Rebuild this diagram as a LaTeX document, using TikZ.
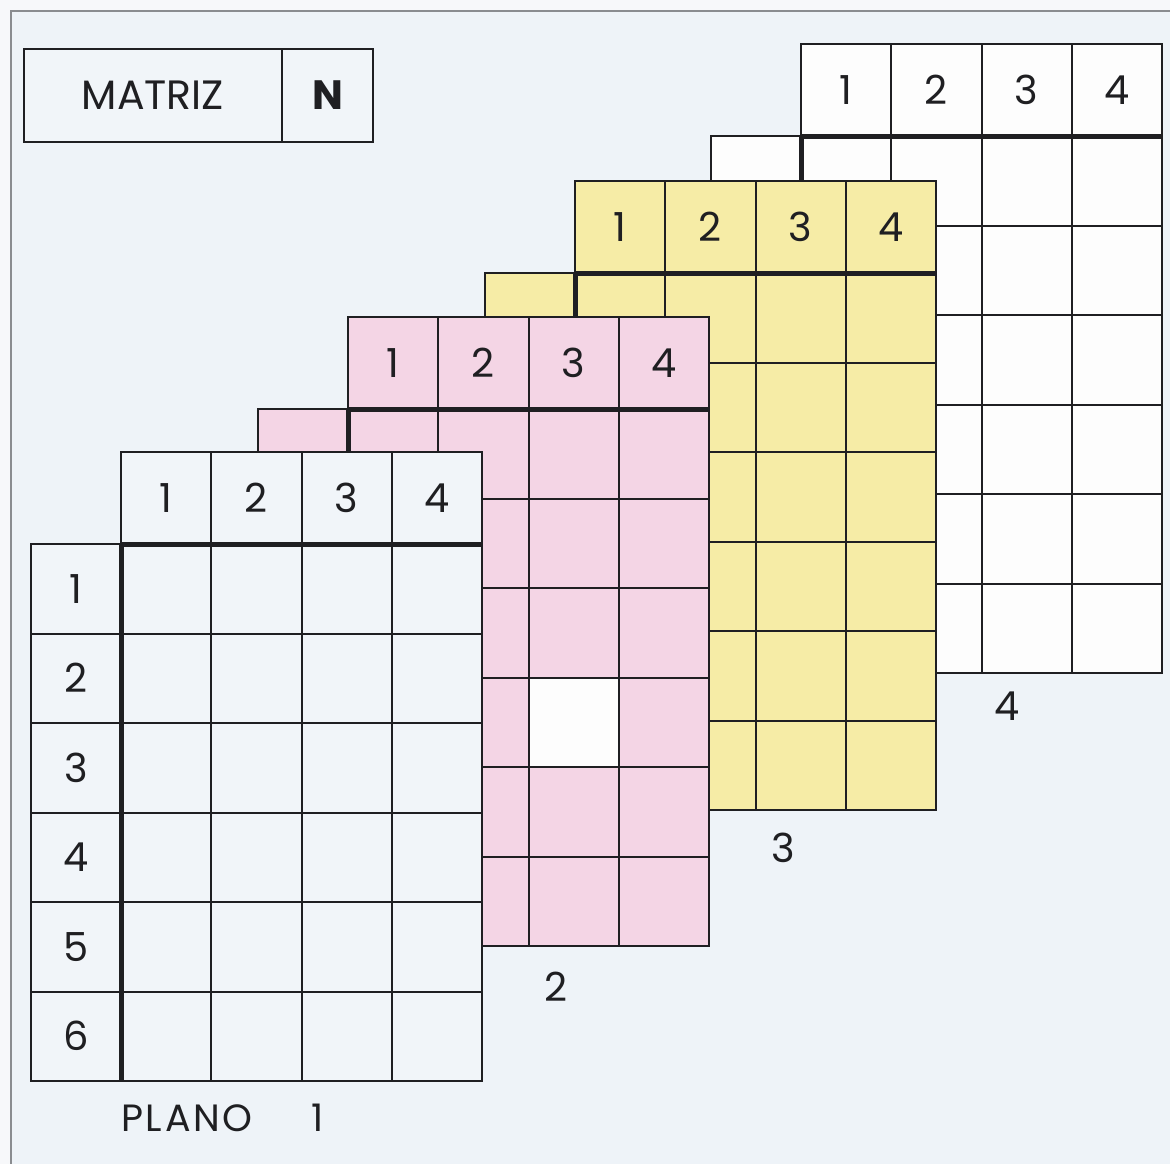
\documentclass[tikz,border=0pt]{standalone}
\usepackage{fontspec}
\setmainfont{Poppins}
\definecolor{ink}{HTML}{1F1F22}
\definecolor{bgc}{HTML}{EEF3F8}
\definecolor{outerbg}{HTML}{F7F8FA}
\definecolor{framec}{HTML}{8A8C90}
\definecolor{pinkc}{HTML}{F4D5E5}
\definecolor{yellowc}{HTML}{F6ECA6}
\definecolor{paleblue}{HTML}{F1F5F9}
\definecolor{whitec}{HTML}{FDFDFD}
\def\CW{90.3}
\def\HH{92}
\def\RH{89.5}
\def\LW{90}
\newcommand\myplane[5]{% X, Y, fill, id, extra
  \fill[#3] (#1,#2) -- ({#1+4*\CW},#2) -- ({#1+4*\CW},{#2+\HH+6*\RH}) -- ({#1-\LW},{#2+\HH+6*\RH}) -- ({#1-\LW},{#2+\HH}) -- (#1,{#2+\HH}) -- cycle;
  #5
  \foreach \i in {1,2,3} \draw[thinln] ({#1+\i*\CW},#2) -- ({#1+\i*\CW},{#2+\HH+6*\RH});
  \foreach \j in {1,...,5} \draw[thinln] ({#1-\LW},{#2+\HH+\j*\RH}) -- ({#1+4*\CW},{#2+\HH+\j*\RH});
  \draw[thinln] (#1,#2) -- ({#1+4*\CW},#2) -- ({#1+4*\CW},{#2+\HH+6*\RH}) -- ({#1-\LW},{#2+\HH+6*\RH}) -- ({#1-\LW},{#2+\HH}) -- (#1,{#2+\HH}) -- cycle;
  \draw[thickln] (#1,{#2+\HH}) -- ({#1+4*\CW},{#2+\HH});
  \draw[thickln] (#1,{#2+\HH}) -- (#1,{#2+\HH+6*\RH});
  \foreach \i in {1,...,4} \node[lbl] (#4h\i) at ({#1+(\i-0.5)*\CW},{#2+\HH/2}) {\i};
}
\begin{document}
\begin{tikzpicture}[x=1pt,y=-1pt,
  thinln/.style={draw=ink, line width=2pt},
  thickln/.style={draw=ink, line width=5pt, line cap=butt},
  lbl/.style={text=ink, font=\fontsize{40}{40}\selectfont, inner sep=0pt},
  biglbl/.style={text=ink, font=\fontsize{41}{41}\selectfont, inner sep=0pt},
  boxcell/.style={draw=ink, line width=2pt, fill=paleblue, minimum height=93pt, inner sep=0pt}]
\useasboundingbox (0,0) rectangle (1170,1164);
\fill[outerbg] (0,0) rectangle (1170,1164);
\fill[bgc] (11,11) rectangle (1170,1164);
\draw[framec, line width=1.5pt] (11,1164) -- (11,11) -- (1170,11);
% title box
\node[boxcell, minimum width=258pt] (matriz) at (153,95.5) {};
\node[boxcell, minimum width=91pt] (nval) at (327.5,95.5) {};
\node[biglbl] (matriztxt) at (matriz.center) {MATRIZ};
\node[biglbl, font=\fontsize{41}{41}\selectfont\bfseries] (ntxt) at (nval.center) {N};
% planes back to front
\myplane{801}{44}{whitec}{p4}{}
\myplane{575}{181}{yellowc}{p3}{}
\myplane{348}{317}{pinkc}{p2}{\fill[whitec] ({348+2*\CW},{317+\HH+3*\RH}) rectangle ({348+3*\CW},{317+\HH+4*\RH});}
\myplane{121}{452}{paleblue}{p1}{}
% row labels plane 1
\foreach \j in {1,...,6} \node[lbl] (p1r\j) at ({121-\LW/2},{452+\HH+(\j-0.5)*\RH}) {\j};
% plane labels
\node[lbl, font=\fontsize{38}{38}\selectfont\addfontfeature{LetterSpace=7}] (plano) at (187,1118) {PLANO};
\node[lbl, font=\fontsize{38}{38}\selectfont] (pl1) at (318,1118) {1};
\node[lbl] (pl2) at (556,987) {2};
\node[lbl] (pl3) at (783,848) {3};
\node[lbl] (pl4) at (1007,706) {4};
\end{tikzpicture}
\end{document}
